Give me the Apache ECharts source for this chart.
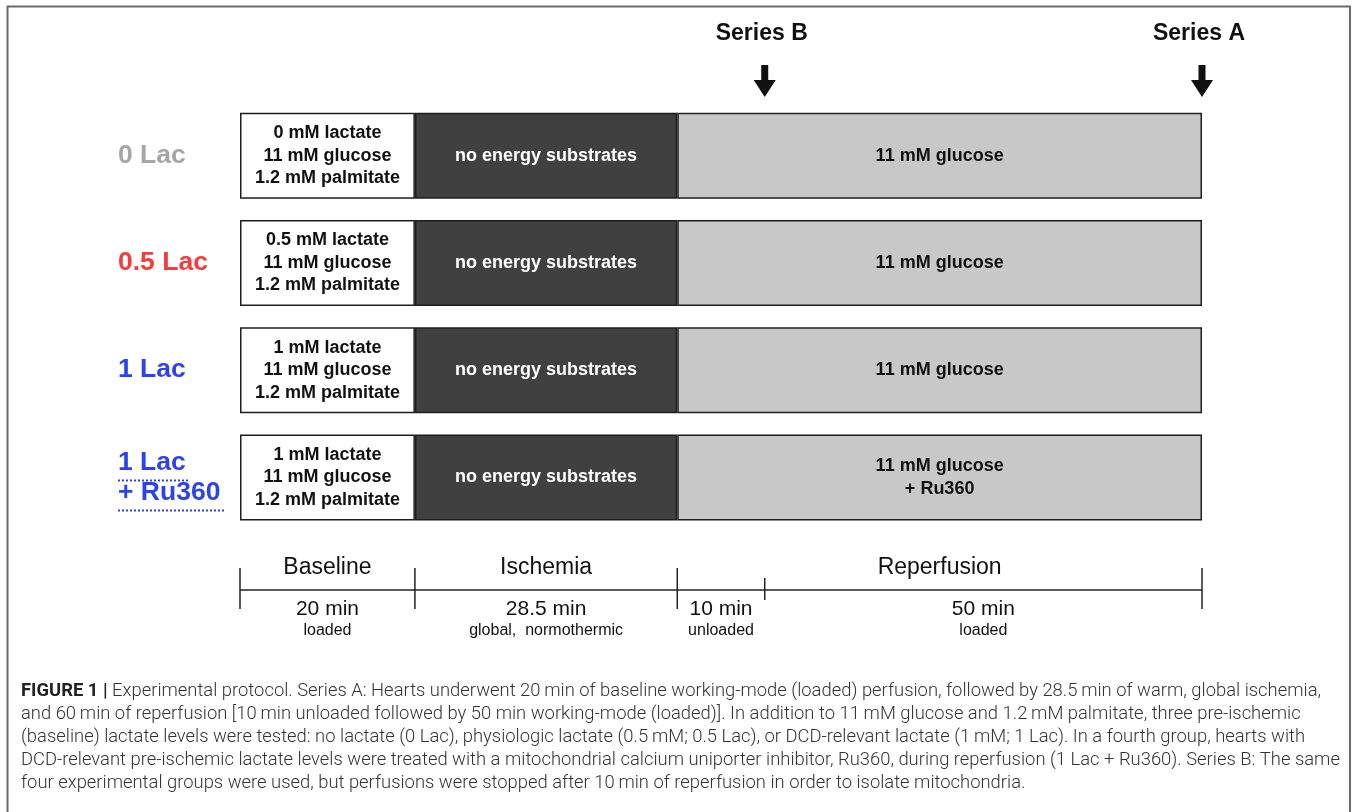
<!DOCTYPE html>
<html><head><meta charset="utf-8">
<script src="https://cdn.jsdelivr.net/npm/echarts@6.0.0/dist/echarts.min.js"></script>
<style>html,body{margin:0;padding:0;background:#fff}#c{width:1357px;height:812px}</style>
</head><body><div id="c"></div>
<script>
// ---------- data ----------
const groups = ['0 Lac', '0.5 Lac', '1 Lac', '1 Lac + Ru360'];
const groupColors = ['#a6a6a6', '#f53b3b', '#2d42ef', '#2d42ef'];
const phaseNames = ['Baseline', 'Ischemia', 'Reperfusion'];
const phaseLengths = [20, 30, 60];               // schematic drawing length of each phase block
const baselineText = [
  '0 mM lactate\n11 mM glucose\n1.2 mM palmitate',
  '0.5 mM lactate\n11 mM glucose\n1.2 mM palmitate',
  '1 mM lactate\n11 mM glucose\n1.2 mM palmitate',
  '1 mM lactate\n11 mM glucose\n1.2 mM palmitate'
];
const ischemiaText = ['no energy substrates', 'no energy substrates', 'no energy substrates', 'no energy substrates'];
const reperfusionText = ['11 mM glucose', '11 mM glucose', '11 mM glucose', '11 mM glucose\n+ Ru360'];
const boundaries = [0, 20, 50, 60, 110];
const tickLong = [1, 1, 1, 0, 1];
const phaseLabelAt = [10, 35, 80];
const durations = ['20 min', '28.5 min', '10 min', '50 min'];
const durationNotes = ['loaded', 'global,  normothermic', 'unloaded', 'loaded'];
const durationAt = [10, 35, 55, 85];
const samplingNames = ['Series B', 'Series A'];
const samplingAt = [60, 110];
const captionLines = [
  '{b|FIGURE 1 |} Experimental protocol. Series A: Hearts underwent 20\u2009min of baseline working-mode (loaded) perfusion, followed by 28.5\u2009min of warm, global ischemia,',
  'and 60\u2009min of reperfusion [10\u2009min unloaded followed by 50 min working-mode (loaded)]. In addition to 11\u2009mM glucose and 1.2\u2009mM palmitate, three pre-ischemic',
  '(baseline) lactate levels were tested: no lactate (0 Lac), physiologic lactate (0.5\u2009mM; 0.5 Lac), or DCD-relevant lactate (1\u2009mM; 1 Lac). In a fourth group, hearts with',
  'DCD-relevant pre-ischemic lactate levels were treated with a mitochondrial calcium uniporter inhibitor, Ru360, during reperfusion (1 Lac + Ru360). Series B: The same',
  'four experimental groups were used, but perfusions were stopped after 10\u2009min of reperfusion in order to isolate mitochondria.'
];

// ---------- chart ----------
const FONT = '"Liberation Sans", Arial, sans-serif';
const CAPFONT = 'Roboto, "Liberation Sans", sans-serif';
const chart = echarts.init(document.getElementById('c'), null, {renderer: 'canvas'});
const xMax = boundaries[boundaries.length - 1];

function blockSeries(name, idx, fill, texts, textColor) {
  return {
    type: 'bar', name: name, stack: 'protocol', xAxisIndex: 0, yAxisIndex: 0,
    barWidth: 86,
    data: groups.map(() => phaseLengths[idx]),
    itemStyle: {color: fill, borderColor: '#1e1e1e', borderWidth: 1.5},
    label: {
      show: true, position: 'inside',
      formatter: p => texts[p.dataIndex],
      color: textColor, fontFamily: FONT, fontWeight: 'bold', fontSize: 18, lineHeight: 22.5
    },
    silent: true
  };
}

function textSeries(grid, xs, texts, dy, size, color, weight) {
  return {
    type: 'custom', xAxisIndex: grid, yAxisIndex: grid, silent: true,
    data: xs.map((x, i) => [x, i]),
    renderItem: (params, api) => {
      const p = api.coord([api.value(0), 0.5]);
      return {
        type: 'text', x: p[0], y: p[1] + dy,
        style: {text: texts[api.value(1)], fill: color, fontFamily: FONT, fontSize: size,
                fontWeight: weight || 'normal', align: 'center', verticalAlign: 'middle'}
      };
    }
  };
}

const option = {
  animation: false,
  grid: [
    {left: 240, right: 155, top: 102, height: 429, outerBoundsMode: 'none'},
    {left: 240, right: 155, top: 560, height: 60, outerBoundsMode: 'none'},
    {left: 240, right: 155, top: 30, height: 67, outerBoundsMode: 'none'}
  ],
  xAxis: [0, 1, 2].map(g => ({type: 'value', gridIndex: g, min: 0, max: xMax, show: false})),
  yAxis: [
    {
      type: 'category', gridIndex: 0, data: groups, inverse: true,
      axisLine: {show: false}, axisTick: {show: false}, splitLine: {show: false},
      axisLabel: {
        margin: 122, align: 'left',
        formatter: (v, i) => i === 3 ? '{c3|1 Lac}\n{c3|+ Ru360}' : '{c' + i + '|' + v + '}',
        rich: Object.fromEntries(groupColors.map((c, i) => ['c' + i,
          {color: c, fontFamily: FONT, fontWeight: 'bold', fontSize: 26.5, lineHeight: 30}]))
      }
    },
    {type: 'value', gridIndex: 1, min: 0, max: 1, show: false},
    {type: 'value', gridIndex: 2, min: 0, max: 1, show: false}
  ],
  series: [
    blockSeries('Baseline', 0, '#ffffff', baselineText, '#111111'),
    blockSeries('Ischemia', 1, '#404040', ischemiaText, '#ffffff'),
    blockSeries('Reperfusion', 2, '#c8c8c8', reperfusionText, '#111111'),
    // timeline axis line
    {
      type: 'line', xAxisIndex: 1, yAxisIndex: 1, silent: true, symbol: 'none',
      data: [[boundaries[0], 0.5], [xMax, 0.5]],
      lineStyle: {color: '#222', width: 1.5}
    },
    // timeline ticks
    {
      type: 'custom', xAxisIndex: 1, yAxisIndex: 1, silent: true,
      data: boundaries.map((b, i) => [b, tickLong[i]]),
      renderItem: (params, api) => {
        const p = api.coord([api.value(0), 0.5]);
        const lg = api.value(1) === 1;
        return {type: 'line',
          shape: {x1: p[0], y1: p[1] - (lg ? 22 : 12), x2: p[0], y2: p[1] + (lg ? 19 : 10)},
          style: {stroke: '#222', lineWidth: 1.5}};
      }
    },
    textSeries(1, phaseLabelAt, phaseNames, -22, 23, '#111'),
    textSeries(1, durationAt, durations, 19, 21, '#111'),
    textSeries(1, durationAt, durationNotes, 41, 16, '#111'),
    // sampling arrows
    {
      type: 'custom', xAxisIndex: 2, yAxisIndex: 2, silent: true,
      data: samplingAt.map((x, i) => [x, i]),
      renderItem: (params, api) => {
        const p = api.coord([api.value(0), 0]);
        const x = p[0], y = p[1];
        return {type: 'group', children: [
          {type: 'text', x: x - 3, y: y - 63,
           style: {text: samplingNames[api.value(1)], fill: '#111', fontFamily: FONT, fontWeight: 'bold',
                   fontSize: 23, align: 'center', verticalAlign: 'middle'}},
          {type: 'polygon', shape: {points: [
             [x - 3.5, y - 32], [x + 3.5, y - 32], [x + 3.5, y - 17], [x + 11, y - 17],
             [x, y], [x - 11, y - 17], [x - 3.5, y - 17]]},
           style: {fill: '#111'}}
        ]};
      }
    }
  ],
  graphic: [
    {type: 'polyline', silent: true,
     shape: {points: [[7.5, 830], [7.5, 6.5], [1350, 6.5], [1350, 830]]},
     style: {stroke: '#6a6a6a', lineWidth: 2, fill: null}}
  ].concat(captionLines.map((t, i) => ({
    type: 'text', silent: true, x: 21, y: 691 + i * 23,
    style: {text: t, fill: '#333', fontFamily: CAPFONT, fontWeight: 300,
            fontSize: 18.4, verticalAlign: 'middle',
            rich: {b: {fontWeight: 'bold', fontFamily: CAPFONT, fontSize: 18.4, fill: '#222'}}}
  })))
};
chart.setOption(option);

// dotted underline for the "1 Lac + Ru360" group label (position taken from the category axis)
const yRow = chart.convertToPixel({yAxisIndex: 0}, groups[3]);
chart.setOption({graphic: option.graphic.concat([
  {type: 'line', silent: true, shape: {x1: 118, y1: yRow + 3, x2: 189, y2: yRow + 3},
   style: {stroke: groupColors[3], lineWidth: 2, lineDash: [2, 2]}},
  {type: 'line', silent: true, shape: {x1: 118, y1: yRow + 33, x2: 226, y2: yRow + 33},
   style: {stroke: groupColors[3], lineWidth: 2, lineDash: [2, 2]}}
])});
</script>
</body></html>
